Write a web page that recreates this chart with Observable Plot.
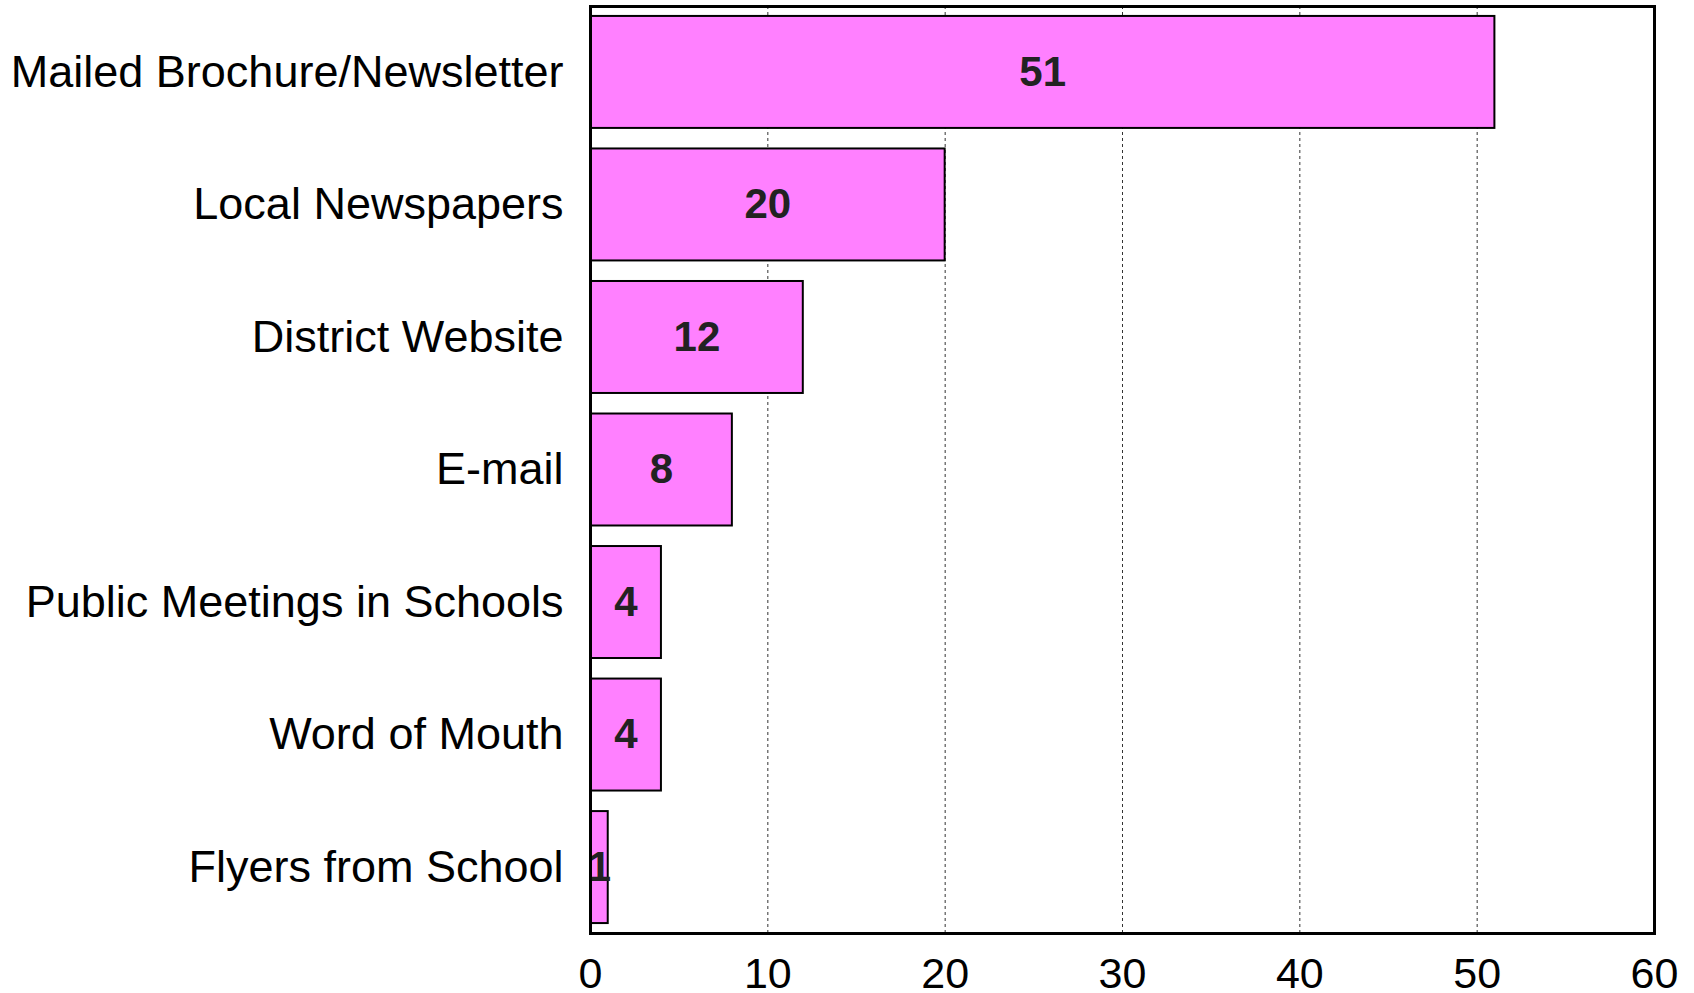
<!DOCTYPE html>
<html><head><meta charset="utf-8">
<script src="https://cdn.jsdelivr.net/npm/d3@7"></script>
<script src="https://cdn.jsdelivr.net/npm/@observablehq/plot@0.6"></script>
<style>html,body{margin:0;padding:0;background:#fff;overflow:hidden}</style>
</head><body><div id="chart"></div>
<script>
const categories = ["Mailed Brochure/Newsletter", "Local Newspapers", "District Website", "E-mail", "Public Meetings in Schools", "Word of Mouth", "Flyers from School"];
const values = [51, 20, 12, 8, 4, 4, 1];
const xTicks = [0, 10, 20, 30, 40, 50, 60];
const gridTicks = [10, 20, 30, 40, 50];
const data = categories.map((c, i) => ({category: c, value: values[i]}));

const chart = Plot.plot({
  width: 1694, height: 993,
  marginLeft: 590, marginRight: 40, marginTop: 6, marginBottom: 60,
  style: {fontFamily: "'Liberation Sans', Arial, sans-serif", background: "#fff", color: "#000"},
  x: {domain: [0, 60]},
  y: {domain: categories, paddingInner: 0.155, paddingOuter: 0.075, round: false},
  marks: [
    Plot.gridX(gridTicks, {stroke: "#333", strokeOpacity: 1, strokeDasharray: "3,3", strokeWidth: 1}),
    Plot.barX(data, {x: "value", y: "category", fill: "#FF80FF", stroke: "#000", strokeWidth: 2}),
    Plot.text(data, {x: d => d.value / 2, y: "category", text: d => String(d.value), fontSize: 42, fontWeight: "bold", fill: "#222"}),
    Plot.frame({stroke: "#000", strokeWidth: 3}),
    Plot.axisX({ticks: xTicks, tickSize: 0, tickPadding: 24, fontSize: 43, label: null, tickFormat: d => String(d)}),
    Plot.axisY({tickSize: 0, tickPadding: 27, fontSize: 45, label: null})
  ]
});
document.getElementById("chart").appendChild(chart);
</script>
</body></html>
